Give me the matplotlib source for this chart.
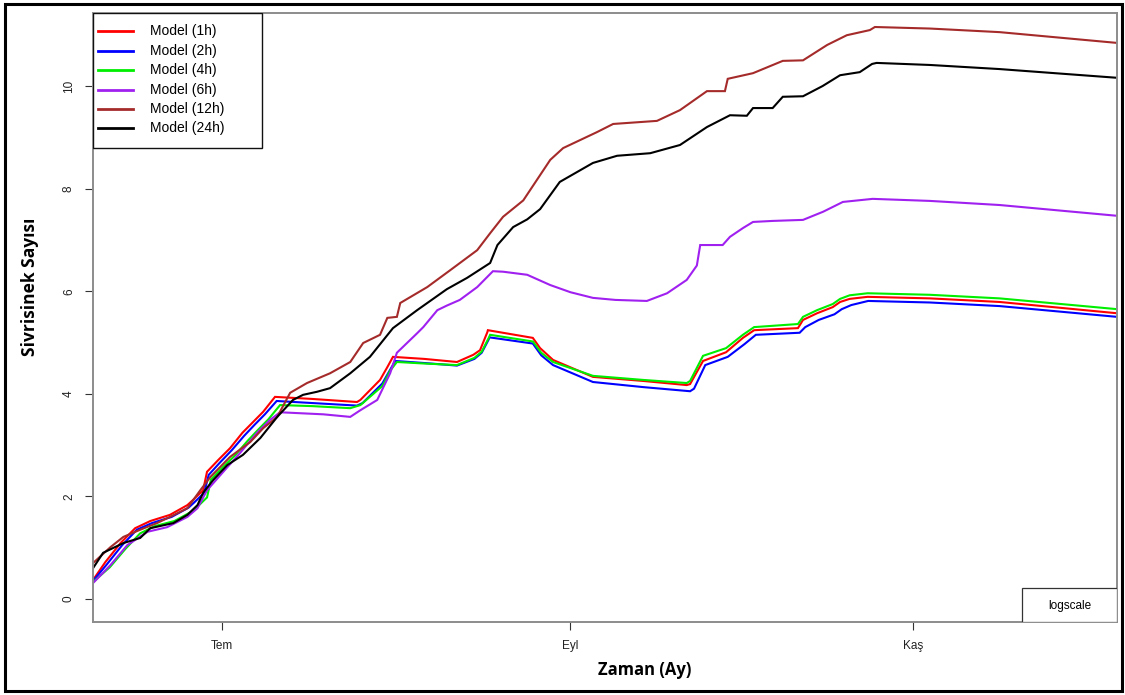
import matplotlib
matplotlib.use("Agg")
import matplotlib.pyplot as plt
from matplotlib.patches import Rectangle
from matplotlib.lines import Line2D

# days relative to 1 July (Tem)
r_days = [-23, -20.8, -18.1, -15.5, -12.8, -9.3, -6.2, -5.2, -3.4, -2.7, -0.7, 1.4, 3.6, 5.5, 7.3, 9.4, 16, 24.0, 24.6, 28.1, 29.4, 30.4, 36, 41.8, 44.7, 45.9, 47.2, 47.3, 55.3, 56.6, 58.9, 66.0, 75, 82.7, 83.3, 85.6, 89.7, 92.7, 94.7, 102.5, 103.4, 105.9, 108.7, 110.0, 111.7, 114.9, 126, 138.4, 159.3]
r_vals = [0.37, 0.72, 1.09, 1.38, 1.52, 1.64, 1.83, 1.93, 2.12, 2.48, 2.71, 2.94, 3.24, 3.45, 3.65, 3.94, 3.90, 3.84, 3.88, 4.27, 4.52, 4.72, 4.68, 4.62, 4.76, 4.85, 5.2, 5.24, 5.09, 4.89, 4.66, 4.33, 4.25, 4.17, 4.19, 4.64, 4.81, 5.09, 5.24, 5.28, 5.44, 5.57, 5.69, 5.79, 5.85, 5.89, 5.86, 5.79, 5.57]

b_days = [-23, -20.5, -17.8, -15.2, -12.5, -9, -6, -5, -3.2, -2.4, -0.4, 1.7, 3.9, 5.8, 7.6, 9.7, 16, 24, 25, 28.5, 29.8, 30.8, 36, 41.8, 44.9, 46.2, 47.4, 47.6, 55.3, 56.8, 58.9, 66, 75, 83.3, 84, 86.0, 90, 93, 95, 102.8, 103.8, 106.2, 109, 110.3, 112, 115, 126, 138.4, 159.3]
b_vals = [0.35, 0.68, 1.05, 1.35, 1.48, 1.6, 1.78, 1.88, 2.07, 2.42, 2.66, 2.9, 3.18, 3.4, 3.6, 3.86, 3.82, 3.77, 3.82, 4.2, 4.45, 4.64, 4.6, 4.55, 4.68, 4.8, 5.05, 5.1, 4.98, 4.75, 4.56, 4.23, 4.13, 4.05, 4.1, 4.56, 4.72, 4.97, 5.15, 5.19, 5.3, 5.44, 5.55, 5.65, 5.73, 5.81, 5.78, 5.71, 5.50]

g_days = [-23, -20, -17.2, -14.6, -12, -8.5, -5.5, -4.4, -2.7, -2, 0.2, 2.3, 4.5, 6.4, 8.2, 10.3, 16, 22.8, 24.6, 28.5, 29.9, 31.1, 36, 41.8, 44.9, 46.2, 47.5, 47.7, 55.3, 56.8, 58.9, 66.0, 75, 82.7, 83.3, 85.6, 89.7, 92.7, 94.7, 102.5, 103.4, 105.9, 108.7, 110.0, 111.7, 114.9, 126, 138.4, 159.3]
g_vals = [0.33, 0.62, 0.98, 1.28, 1.42, 1.52, 1.7, 1.8, 1.98, 2.33, 2.58, 2.8, 3.08, 3.3, 3.5, 3.78, 3.76, 3.72, 3.78, 4.15, 4.45, 4.62, 4.59, 4.56, 4.7, 4.82, 5.1, 5.15, 5.02, 4.8, 4.62, 4.35, 4.27, 4.21, 4.25, 4.74, 4.89, 5.15, 5.30, 5.36, 5.5, 5.63, 5.75, 5.85, 5.92, 5.96, 5.93, 5.86, 5.65]

p_days = [-23, -19.9, -16.9, -13.3, -9.8, -6.2, -4.4, -2.7, 0.2, 3.2, 6.2, 8.5, 10.3, 18, 22.8, 24.6, 27.6, 29.9, 31.1, 34.7, 35.8, 38.3, 40.0, 42.3, 45.4, 48.2, 50, 54.3, 58.4, 62, 66.0, 70, 75.6, 79.2, 82.7, 84.5, 85.1, 89.1, 90.4, 92.7, 94.5, 98, 103.4, 107, 110.5, 115.8, 126, 138.4, 159.3]
p_vals = [0.31, 0.66, 1.05, 1.31, 1.4, 1.6, 1.77, 2.12, 2.48, 2.85, 3.24, 3.49, 3.64, 3.6, 3.55, 3.68, 3.88, 4.4, 4.8, 5.18, 5.3, 5.63, 5.72, 5.83, 6.08, 6.39, 6.38, 6.32, 6.12, 5.98, 5.87, 5.83, 5.81, 5.96, 6.22, 6.5, 6.9, 6.9, 7.06, 7.23, 7.35, 7.37, 7.39, 7.55, 7.74, 7.8, 7.76, 7.68, 7.47]

br_days = [-23, -19.9, -17.6, -14.6, -11.6, -9.3, -6.2, -3.9, -2.1, 1.4, 5.0, 7.3, 9.8, 12.1, 15.1, 19.2, 22.8, 25.1, 28.1, 29.4, 31.1, 31.7, 36.5, 40.6, 45.4, 47.7, 50.0, 53.6, 58.4, 60.7, 66.7, 69.6, 77.4, 81.5, 86.3, 89.5, 90.0, 94.5, 99.8, 103.4, 107.7, 111.2, 115.3, 116.2, 126, 138.4, 159.3]
br_vals = [0.7, 1.01, 1.21, 1.35, 1.48, 1.6, 1.77, 2.12, 2.38, 2.77, 3.06, 3.33, 3.55, 4.02, 4.21, 4.4, 4.62, 4.99, 5.15, 5.48, 5.5, 5.77, 6.08, 6.41, 6.8, 7.13, 7.45, 7.77, 8.56, 8.79, 9.1, 9.26, 9.32, 9.53, 9.9, 9.9, 10.14, 10.25, 10.49, 10.5, 10.8, 10.99, 11.09, 11.15, 11.12, 11.05, 10.84]

k_days = [-23, -21.2, -17.6, -14.6, -12.8, -8.7, -6.2, -4.4, -3.4, -1.6, 0.9, 3.7, 6.8, 9.8, 12.6, 14.4, 16.9, 19.2, 22.8, 26.3, 30.4, 34.7, 40.0, 43.6, 47.7, 49, 51.8, 54.3, 56.6, 60.1, 66.0, 70.3, 76.2, 81.5, 86.3, 90.4, 93.4, 94.5, 98.0, 99.8, 103.4, 106.9, 110.0, 113.5, 115.7, 116.5, 126, 138.4, 159.3]
k_vals = [0.6, 0.9, 1.09, 1.19, 1.38, 1.48, 1.64, 1.83, 2.07, 2.32, 2.61, 2.81, 3.14, 3.55, 3.88, 3.98, 4.04, 4.11, 4.4, 4.72, 5.28, 5.63, 6.04, 6.26, 6.55, 6.9, 7.25, 7.4, 7.6, 8.13, 8.5, 8.64, 8.69, 8.85, 9.2, 9.43, 9.42, 9.57, 9.57, 9.79, 9.8, 10.0, 10.21, 10.27, 10.43, 10.45, 10.41, 10.33, 10.16]

labels = ["Model (1h)", "Model (2h)", "Model (4h)", "Model (6h)", "Model (12h)", "Model (24h)"]
colors = ["#FF0000", "#0000FF", "#00EE00", "#A020F0", "#A52A2A", "#000000"]
series = [(r_days, r_vals), (b_days, b_vals), (g_days, g_vals),
          (p_days, p_vals), (br_days, br_vals), (k_days, k_vals)]

month_pos = [0, 62, 123]
month_labels = ["Tem", "Eyl", "Kaş"]
y_ticks = [0, 2, 4, 6, 8, 10]

W, H = 1125, 695
fig = plt.figure(figsize=(W / 100, H / 100), dpi=100)
ax = fig.add_axes([93 / W, 1 - 622 / H, (1117 - 93) / W, (622 - 13) / H])

for (d, v), c in zip(series, colors):
    ax.plot(d, v, color=c, lw=1.5, solid_joinstyle="miter")

ax.set_xlim(-23, 159.3)
ax.set_ylim((599 - 622) / 51.3, (599 - 13) / 51.3)

ax.set_xticks(month_pos)
ax.set_xticklabels(month_labels, fontfamily="Liberation Sans", fontsize=8.5, color="#222222")
ax.set_yticks(y_ticks)
ax.set_yticklabels([str(t) for t in y_ticks], fontfamily="Liberation Sans",
                   fontsize=8.5, rotation=90, va="center", color="#222222")
ax.tick_params(axis="both", direction="out", length=6, width=0.8, color="#333333", pad=7)
for s in ax.spines.values():
    s.set_color("#8c8c8c")
    s.set_linewidth(1.4)

# legend box drawn in axes coordinates
aw, ah = 1024.0, 609.0
ax.add_patch(Rectangle((0, (622 - 148) / ah), (262 - 93) / aw, (148 - 13) / ah,
                       transform=ax.transAxes, fill=True, facecolor="white",
                       edgecolor="#111111", lw=1.0, zorder=5))
rows = [31, 51, 70, 90, 109, 128]
for py, lab, c in zip(rows, labels, colors):
    yy = (622 - py) / ah
    ax.add_line(Line2D([(98 - 93) / aw, (133 - 93) / aw], [yy, yy], transform=ax.transAxes,
                       color=c, lw=2.0, zorder=6))
    ax.text((150 - 93) / aw, yy, lab, transform=ax.transAxes, va="center", ha="left",
            fontfamily="Liberation Sans", fontsize=10, zorder=6)

# logscale box
ax.add_patch(Rectangle(((1022 - 93) / aw, 0), (1117 - 1022) / aw, (622 - 588) / ah,
                       transform=ax.transAxes, facecolor="white", edgecolor="#333333",
                       lw=0.9, zorder=5))
ax.text((1070 - 93) / aw, (622 - 606) / ah, "logscale", transform=ax.transAxes,
        ha="center", va="center", fontfamily="Liberation Sans", fontsize=8.5, zorder=6)

fig.text(645 / W, 1 - 670 / H, "Zaman (Ay)", ha="center", va="center",
         fontfamily="Open Sans", fontweight="bold", fontsize=12)
fig.text(30 / W, 1 - 287 / H, "Sivrisinek Sayısı", ha="center", va="center", rotation=90,
         fontfamily="Open Sans", fontweight="bold", fontsize=12.5)

# outer frame
fig.add_artist(Rectangle((5 / W, 4 / H), (1122 - 5) / W, (691 - 4) / H,
                         transform=fig.transFigure, fill=False, edgecolor="black", lw=2.2))

fig.savefig("out.png", dpi=100)
